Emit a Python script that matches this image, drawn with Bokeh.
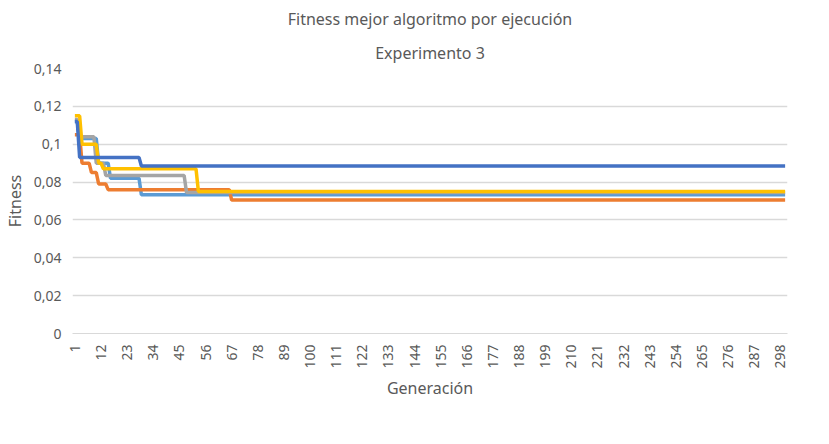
from bokeh.embed import file_html
from bokeh.resources import INLINE
from bokeh.plotting import figure
from bokeh.models import FixedTicker, Legend, LegendItem, Title
import numpy as np

gens = list(range(1, 301))
x_ticks = list(range(1, 300, 11))
y_ticks = [0, 0.02, 0.04, 0.06, 0.08, 0.1, 0.12, 0.14]
y_labels = ["0", "0,02", "0,04", "0,06", "0,08", "0,1", "0,12", "0,14"]

# change points (generation, fitness) per job
job0 = [(1, 0.112), (3, 0.103), (11, 0.09), (16, 0.082), (29, 0.0733)]
job1 = [(1, 0.105), (4, 0.09), (8, 0.085), (11, 0.079), (15, 0.076), (67, 0.0705)]
job2 = [(1, 0.113), (3, 0.104), (10, 0.09), (14, 0.0835), (48, 0.0745)]
job3 = [(1, 0.115), (4, 0.1), (11, 0.09), (13, 0.087), (53, 0.075)]
job4 = [(1, 0.112), (3, 0.093), (29, 0.0885)]

names = ["job 0", "job 1", "job 2", "job 3", "job 4"]
colors = ["#5B9BD5", "#ED7D31", "#A5A5A5", "#FFC000", "#4472C4"]
FONT = "Noto Sans"


def expand(points):
    vals = []
    for g in gens:
        v = points[0][1]
        for gg, vv in points:
            if g >= gg:
                v = vv
        vals.append(v)
    return vals


p = figure(width=813, height=428, output_backend="svg", toolbar_location=None,
           x_range=(0, 301), y_range=(0, 0.14), min_border_left=20, min_border_right=26,
           min_border_bottom=95, min_border_top=20)
p.outline_line_color = None
p.border_fill_color = "white"
p.add_layout(Title(text="Experimento 3", align="center", text_font=FONT,
                   text_font_size="12pt", text_font_style="normal", text_color="#595959"), "above")
p.add_layout(Title(text="Fitness mejor algoritmo por ejecución", align="center", text_font=FONT,
                   text_font_size="12pt", text_font_style="normal", text_color="#595959"), "above")

items = []
for pts, n, c in zip([job0, job1, job2, job3, job4], names, colors):
    r = p.line(gens, expand(pts), line_color=c, line_width=3.5)
    items.append(LegendItem(label=n, renderers=[r]))

leg = Legend(items=items, orientation="horizontal", location=(150, -125),
             label_text_font=FONT, label_text_font_size="10.5pt", label_text_color="#595959",
             border_line_color=None, background_fill_alpha=0, glyph_width=40, spacing=8)
p.add_layout(leg, "center")

p.xaxis.ticker = FixedTicker(ticks=x_ticks)
p.xaxis.major_label_orientation = np.pi / 2
p.yaxis.ticker = FixedTicker(ticks=y_ticks)
p.yaxis.major_label_overrides = {t: l for t, l in zip(y_ticks, y_labels)}
p.xaxis.axis_label = "Generación"
p.yaxis.axis_label = "Fitness"
for ax in [p.xaxis, p.yaxis]:
    ax.axis_label_text_font = FONT
    ax.major_label_text_font = FONT
    ax.axis_label_text_font_style = "normal"
    ax.axis_label_text_font_size = "12pt"
    ax.axis_label_text_color = "#595959"
    ax.major_label_text_font_size = "10.5pt"
    ax.major_label_text_color = "#595959"
    ax.major_tick_line_color = None
    ax.minor_tick_line_color = None
p.yaxis.axis_line_color = None
p.xaxis.axis_line_color = "#D9D9D9"
p.xgrid.grid_line_color = None
p.ygrid.grid_line_color = "#D9D9D9"
p.ygrid.grid_line_width = 1.5

open("out.html", "w").write(file_html(p, INLINE))
